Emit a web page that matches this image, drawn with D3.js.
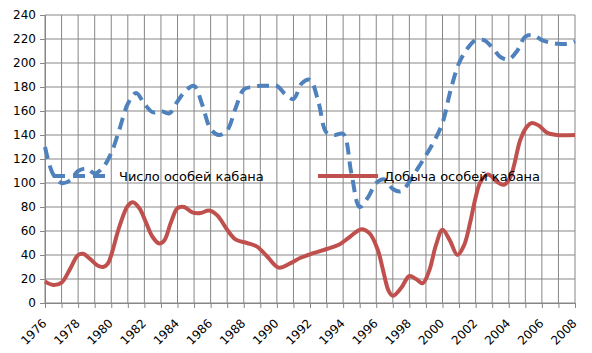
<!DOCTYPE html>
<html>
<head>
<meta charset="utf-8">
<script src="https://cdn.jsdelivr.net/npm/d3@7"></script>
<style>
  body { margin: 0; background: #fff; }
  text { font-family: "DejaVu Sans", sans-serif; }
</style>
</head>
<body>
<div class="chart"></div>
<script>
// Число особей кабана (blue dashed)
const countYears = [1976, 1976.5, 1977, 1977.5, 1978, 1978.5, 1979, 1979.5, 1980, 1980.5,
  1981, 1981.5, 1982, 1982.5, 1983, 1983.5, 1984, 1984.5, 1985, 1985.5,
  1986, 1986.5, 1987, 1987.5, 1988, 1988.5, 1989, 1989.5, 1990, 1990.5,
  1991, 1991.5, 1992, 1992.5, 1993, 1993.5, 1994, 1994.5, 1995, 1995.5,
  1996, 1996.5, 1997, 1997.5, 1998, 1998.5, 1999, 1999.5, 2000, 2000.5,
  2001, 2001.5, 2002, 2002.5, 2003, 2003.5, 2004, 2004.5, 2005, 2005.5,
  2006, 2006.5, 2007, 2007.5, 2008];
const countValues = [130, 107, 100, 102, 110, 112, 108, 113, 125, 145,
  166, 175, 166, 159, 160, 158, 168, 177, 181, 165,
  145, 140, 144, 162, 178, 180, 181, 181, 181, 174,
  170, 183, 186, 168, 142, 140, 141, 108, 80, 88,
  100, 103, 95, 93, 101, 112, 123, 135, 150, 178,
  200, 212, 219, 219, 213, 205, 203, 210, 222, 223,
  219, 217, 216, 216, 218];

// Добыча особей кабана (red solid)
const harvestYears = [1976, 1976.5, 1977, 1977.5, 1978, 1978.3, 1978.7, 1979.2, 1979.5, 1979.8,
  1980, 1980.5, 1981, 1981.3, 1981.7, 1982.1, 1982.5, 1982.9, 1983.2, 1983.6,
  1984, 1984.4, 1984.9, 1985.4, 1985.9, 1986.4, 1987, 1987.5, 1988.2, 1988.8,
  1989.4, 1990.1, 1990.8, 1991.4, 1992.2, 1993, 1993.8, 1994.4, 1995.1, 1995.6,
  1996.1, 1996.4, 1996.75, 1997, 1997.5, 1998, 1998.4, 1998.8, 1999.2, 1999.6,
  2000, 2000.45, 2000.9, 2001.3, 2001.7, 2002, 2002.3, 2002.75, 2003.3, 2003.7,
  2004.1, 2004.7, 2005.1, 2005.4, 2005.8, 2006.3, 2006.9, 2008];
const harvestValues = [18, 15, 17, 28, 40, 41, 37, 31, 30, 33,
  40, 64, 81, 84, 79, 67, 55, 49.5, 52, 67,
  79, 80, 75.5, 75, 77, 73, 61, 53, 50, 47,
  39, 29.5, 33, 37.5, 41.5, 45, 49, 55, 61.5, 58,
  44, 28, 10, 6, 12.5, 22.5, 20, 16.5, 27, 48,
  61, 52, 40, 48, 69, 88, 101, 107, 101, 98.5,
  105, 136, 147, 150, 148, 142, 140, 140];

const seriesNames = ["Число особей кабана", "Добыча особей кабана"];
const yTicks = d3.range(0, 241, 20);

const margin = { top: 15, left: 45, bottom: 50, right: 17 };
const width = 592 - margin.left - margin.right,
  height = 353 - margin.top - margin.bottom;

const svg = d3
  .select(".chart")
  .append("svg")
  .attr("width", 592)
  .attr("height", 353)
  .append("g")
  .attr("transform", `translate(${margin.left},${margin.top})`);

const xScale = d3.scaleLinear().domain([1976, 2008]).range([0, width]);
const yScale = d3.scaleLinear().domain([0, 240]).range([height, 0]);

// grid
svg
  .append("g")
  .selectAll("line")
  .data(d3.range(1976, 2009))
  .enter()
  .append("line")
  .attr("x1", (d) => xScale(d))
  .attr("x2", (d) => xScale(d))
  .attr("y1", 0)
  .attr("y2", height)
  .attr("stroke", "#878787");

svg
  .append("g")
  .selectAll("line")
  .data(yTicks)
  .enter()
  .append("line")
  .attr("x1", 0)
  .attr("x2", width)
  .attr("y1", (d) => yScale(d))
  .attr("y2", (d) => yScale(d))
  .attr("stroke", "#878787");

const yAxis = d3.axisLeft(yScale).tickValues(yTicks).tickSize(5).tickPadding(4);
const yg = svg.append("g").attr("class", "axis y-axis").call(yAxis);
yg.select(".domain").attr("stroke", "#878787");
yg.selectAll(".tick line").attr("stroke", "#878787");
yg.selectAll("text").attr("font-size", "12px").attr("fill", "#000")
  .style("font-family", "DejaVu Sans");

const xAxis = d3.axisBottom(xScale).tickValues(d3.range(1976, 2009)).tickSize(5)
  .tickFormat((d) => (d % 2 === 0 ? d : ""));
const xg = svg
  .append("g")
  .attr("class", "axis x-axis")
  .attr("transform", `translate(0, ${height})`)
  .call(xAxis);
xg.select(".domain").attr("stroke", "#878787");
xg.selectAll(".tick line").attr("stroke", "#878787");
xg.selectAll("text")
  .attr("font-size", "12px")
  .attr("fill", "#000")
  .style("font-family", "DejaVu Sans")
  .attr("text-anchor", "end")
  .attr("y", 0)
  .attr("dy", 0)
  .attr("transform", "translate(2,21) rotate(-45)");

const line = d3
  .line()
  .x((d) => xScale(d[0]))
  .y((d) => yScale(d[1]))
  .curve(d3.curveCatmullRom.alpha(0.5));

svg
  .append("path")
  .datum(d3.zip(harvestYears, harvestValues))
  .attr("fill", "none")
  .attr("stroke", "#C0504D")
  .attr("stroke-width", 4)
  .attr("d", line);

svg
  .append("path")
  .datum(d3.zip(countYears, countValues))
  .attr("fill", "none")
  .attr("stroke", "#4F81BD")
  .attr("stroke-width", 4)
  .attr("stroke-dasharray", "12,7")
  .attr("d", line);

// legend
const legendY = 161;
const legend = [
  { x: 8, color: "#4F81BD", dash: "12,8" },
  { x: 273, color: "#C0504D", dash: null },
];
legend.forEach((l, i) => {
  svg
    .append("line")
    .attr("x1", l.x)
    .attr("x2", l.x + 60)
    .attr("y1", legendY)
    .attr("y2", legendY)
    .attr("stroke", l.color)
    .attr("stroke-width", 4)
    .attr("stroke-dasharray", l.dash);
  svg
    .append("text")
    .attr("x", l.x + 66)
    .attr("y", legendY + 5)
    .attr("font-size", "13px")
    .text(seriesNames[i]);
});
</script>
</body>
</html>
